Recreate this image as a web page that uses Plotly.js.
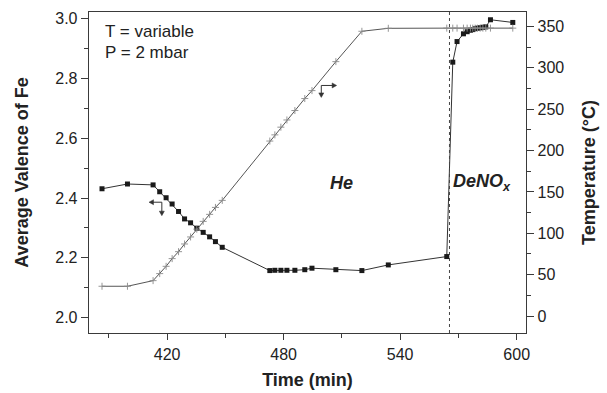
<!DOCTYPE html>
<html>
<head>
<meta charset="utf-8">
<script src="https://cdn.plot.ly/plotly-3.0.1.min.js"></script>
<style>
  html, body { margin: 0; padding: 0; background: #fff; }
  #chart { width: 607px; height: 393px; }
</style>
</head>
<body>
<div id="chart"></div>
<script>
// Sampling times (min), shared by both measurements
const timeMin = [386.5, 399.6, 412.8, 416.2, 419.5, 422.6, 425.9, 429.0, 432.1, 435.3,
                 438.6, 441.9, 444.9, 448.4, 472.9, 475.5, 478.6, 481.7, 485.8, 490.9,
                 494.6, 506.9, 520.3, 533.9, 564.0, 567.1, 569.3, 572.6, 574.5, 576.2,
                 577.4, 578.6, 579.8, 581.2, 582.6, 584.1, 586.5, 598.0];

// Average valence of Fe (left axis)
const feValence = [2.431, 2.447, 2.444, 2.421, 2.401, 2.380, 2.355, 2.330, 2.317, 2.299,
                   2.285, 2.270, 2.254, 2.235, 2.157, 2.158, 2.158, 2.158, 2.158, 2.160,
                   2.165, 2.160, 2.157, 2.176, 2.204, 2.855, 2.924, 2.950, 2.957, 2.962,
                   2.964, 2.967, 2.969, 2.970, 2.972, 2.973, 2.997, 2.988];

// Sample temperature in °C (right axis)
const temperatureC = [36.0, 36.0, 42.8, 51.3, 60.1, 69.4, 77.8, 87.1, 95.6, 105.0,
                      114.4, 122.9, 131.3, 139.8, 211.5, 219.0, 228.3, 237.0, 248.4, 262.9,
                      272.5, 307.5, 344.2, 347.8, 348, 348, 348, 348, 348, 348,
                      348, 348, 348, 348, 348, 348, 348, 348];

// Switch from He to DeNOx feed (min)
const gasSwitchTime = 565.4;

const FONT = 'Liberation Sans, Arial, Helvetica, sans-serif';
const INK = '#222';
const AXIS = '#3a3a3a';

const traces = [
  {
    x: timeMin, y: temperatureC, yaxis: 'y2', type: 'scatter', mode: 'lines+markers',
    line: { color: '#555', width: 1 },
    marker: { symbol: 'cross-thin-open', size: 5, color: '#8a8a8a', line: { width: 0.9, color: '#8a8a8a' } },
    hoverinfo: 'skip'
  },
  {
    x: timeMin, y: feValence, type: 'scatter', mode: 'lines+markers',
    line: { color: '#333', width: 1 },
    marker: { symbol: 'square', size: 5, color: '#1a1a1a' },
    hoverinfo: 'skip'
  }
];

const tickFont = { family: FONT, size: 16, color: INK };
const titleFont = { family: FONT, size: 18, color: INK, weight: 700 };

// L-shaped pointer: a horizontal and a vertical stroke meeting at a corner,
// each ending in a small filled head. Sizes are in screen pixels and turned
// into data units with the axis scales below.
const PX_PER_MIN = 437 / (604.8 - 379.8);
const PX_PER_VAL = 321 / (3.023 - 1.948);
function pointer(cornerX, cornerY, horizTipX, vertTipY) {
  const len = 4.5, half = 2.5;
  const dxLen = len / PX_PER_MIN, dyLen = len / PX_PER_VAL;
  const dxHalf = half / PX_PER_MIN, dyHalf = half / PX_PER_VAL;
  const sx = Math.sign(horizTipX - cornerX);
  const sy = Math.sign(vertTipY - cornerY);
  const stroke = { color: '#333', width: 1 };
  const fill = '#333';
  return [
    { type: 'line', xref: 'x', yref: 'y', x0: cornerX, y0: cornerY, x1: horizTipX - sx * dxLen * 0.6, y1: cornerY, line: stroke },
    { type: 'line', xref: 'x', yref: 'y', x0: cornerX, y0: cornerY, x1: cornerX, y1: vertTipY - sy * dyLen * 0.6, line: stroke },
    { type: 'path', xref: 'x', yref: 'y', fillcolor: fill, line: { color: fill, width: 0.5 },
      path: `M ${horizTipX} ${cornerY} L ${horizTipX - sx * dxLen} ${cornerY + dyHalf} L ${horizTipX - sx * dxLen} ${cornerY - dyHalf} Z` },
    { type: 'path', xref: 'x', yref: 'y', fillcolor: fill, line: { color: fill, width: 0.5 },
      path: `M ${cornerX} ${vertTipY} L ${cornerX - dxHalf} ${vertTipY - sy * dyLen} L ${cornerX + dxHalf} ${vertTipY - sy * dyLen} Z` }
  ];
}

const layout = {
  width: 607, height: 393,
  margin: { l: 89, r: 81, t: 12, b: 60, pad: 0 },
  paper_bgcolor: '#fff', plot_bgcolor: '#fff',
  showlegend: false,
  font: { family: FONT, color: INK },
  xaxis: {
    range: [379.8, 604.8],
    tick0: 420, dtick: 60,
    ticks: 'outside', ticklen: 6, tickwidth: 1, tickcolor: AXIS,
    minor: { tick0: 390, dtick: 30, ticks: 'outside', ticklen: 4, tickcolor: AXIS, showgrid: false },
    showline: true, linecolor: AXIS, linewidth: 1.3, mirror: true,
    showgrid: false, zeroline: false,
    tickfont: tickFont,
    title: { text: 'Time (min)', font: titleFont, standoff: 12 }
  },
  yaxis: {
    range: [1.948, 3.023],
    tick0: 2, dtick: 0.2, tickformat: '.1f',
    ticks: 'outside', ticklen: 7, tickwidth: 1, tickcolor: AXIS,
    minor: { dtick: 0.1, ticks: 'outside', ticklen: 4, tickcolor: AXIS, showgrid: false },
    showline: true, linecolor: AXIS, linewidth: 1.3,
    showgrid: false, zeroline: false,
    tickfont: tickFont,
    title: { text: 'Average Valence of Fe', font: titleFont, standoff: 22 }
  },
  yaxis2: {
    overlaying: 'y', side: 'right',
    range: [-20.5, 367.5],
    tick0: 0, dtick: 50,
    ticks: 'outside', ticklen: 7, tickwidth: 1, tickcolor: AXIS,
    minor: { dtick: 25, ticks: 'outside', ticklen: 4, tickcolor: AXIS, showgrid: false },
    showline: true, linecolor: AXIS, linewidth: 1.3,
    showgrid: false, zeroline: false,
    tickfont: tickFont,
    title: { text: 'Temperature (°C)', font: titleFont, standoff: 19 }
  },
  shapes: [
    {
      type: 'line', xref: 'x', yref: 'paper',
      x0: gasSwitchTime, x1: gasSwitchTime, y0: 0, y1: 1,
      line: { color: '#444', width: 1, dash: 'dot' }
    },
    // Fe curve belongs to the left axis
    ...pointer(417.3, 2.386, 410.7, 2.341),
    // temperature curve belongs to the right axis
    ...pointer(499.4, 2.777, 507.3, 2.737)
  ],
  annotations: [
    { xref: 'paper', yref: 'paper', x: 0.032, y: 0.938, xanchor: 'left', yanchor: 'middle',
      text: 'T = variable', showarrow: false, font: { family: FONT, size: 17, color: INK } },
    { xref: 'paper', yref: 'paper', x: 0.032, y: 0.8725, xanchor: 'left', yanchor: 'middle',
      text: 'P = 2 mbar', showarrow: false, font: { family: FONT, size: 17, color: INK } },
    { xref: 'x', yref: 'y', x: 509.6, y: 2.452, xanchor: 'center', yanchor: 'middle',
      text: '<b><i>He</i></b>', showarrow: false, font: { family: FONT, size: 18, color: INK } },
    { xref: 'x', yref: 'y', x: 566.2, y: 2.452, xanchor: 'left', yanchor: 'middle',
      text: '<b><i>DeNO<sub>x</sub></i></b>', showarrow: false, font: { family: FONT, size: 18, color: INK } }
  ]
};

Plotly.newPlot('chart', traces, layout, { staticPlot: true, displayModeBar: false });
</script>
</body>
</html>
